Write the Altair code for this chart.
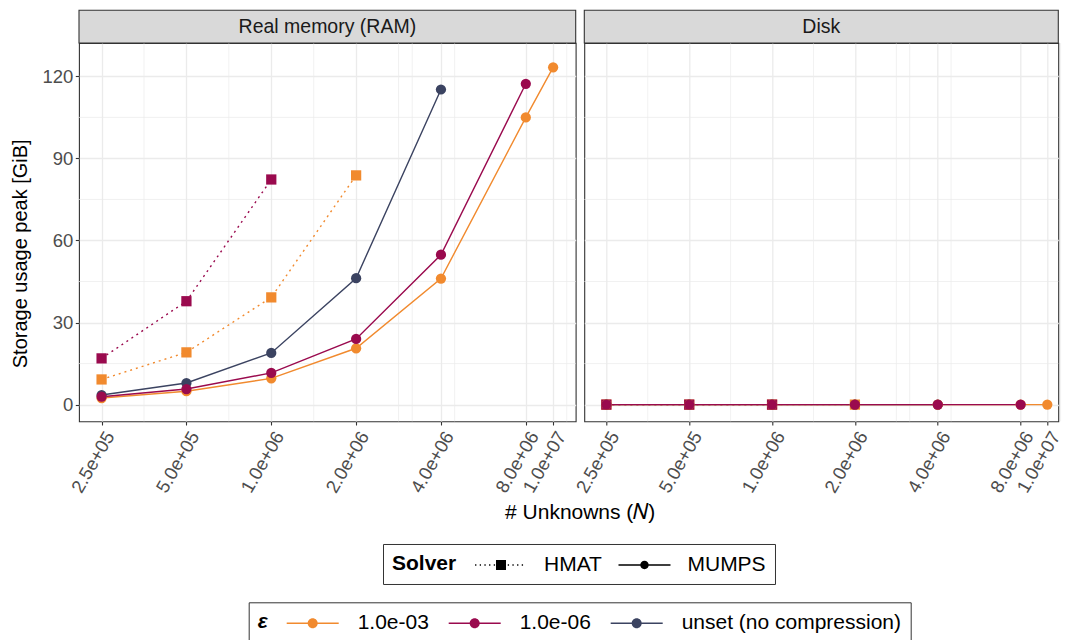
import math
import altair as alt
import pandas as pd

# ---------------- data ----------------
PANELS = ["Real memory (RAM)", "Disk"]
SOLVERS = ["HMAT", "MUMPS"]
EPS_LEVELS = ["1.0e-03", "1.0e-06", "unset (no compression)"]
EPS_COLORS = ["#F18A2E", "#9A0A4E", "#3B4361"]

N_ALL = [250000, 500000, 1000000, 2000000, 4000000, 8000000, 10000000]
X_BREAKS = N_ALL
X_MINOR = [353553, 707107, 1414214, 2828427, 3162278, 4472136, 11180340]
Y_BREAKS = [0, 30, 60, 90, 120]
Y_MINOR = [15, 45, 75, 105]

# Real memory (RAM), GiB
ram_hmat_1e3 = [9.2, 19.1, 39.2, 83.8]
ram_hmat_1e6 = [16.9, 37.8, 82.3]
ram_mumps_1e3 = [2.4, 4.9, 9.6, 20.6, 46.1, 105.0, 123.3]
ram_mumps_1e6 = [2.9, 5.7, 11.6, 24.0, 54.8, 117.3]
ram_mumps_unset = [3.5, 7.9, 18.9, 46.2, 115.2]
# Disk, GiB
disk_hmat_1e3 = [0.0, 0.0, 0.0, 0.0]
disk_hmat_1e6 = [0.0, 0.0, 0.0]
disk_mumps_1e3 = [0.0, 0.0, 0.0, 0.0, 0.0, 0.0, 0.0]
disk_mumps_1e6 = [0.0, 0.0, 0.0, 0.0, 0.0, 0.0]
disk_mumps_unset = [0.0, 0.0, 0.0, 0.0, 0.0]

SERIES = [
    (PANELS[0], "HMAT", EPS_LEVELS[0], ram_hmat_1e3),
    (PANELS[0], "HMAT", EPS_LEVELS[1], ram_hmat_1e6),
    (PANELS[0], "MUMPS", EPS_LEVELS[2], ram_mumps_unset),
    (PANELS[0], "MUMPS", EPS_LEVELS[0], ram_mumps_1e3),
    (PANELS[0], "MUMPS", EPS_LEVELS[1], ram_mumps_1e6),
    (PANELS[1], "HMAT", EPS_LEVELS[0], disk_hmat_1e3),
    (PANELS[1], "HMAT", EPS_LEVELS[1], disk_hmat_1e6),
    (PANELS[1], "MUMPS", EPS_LEVELS[2], disk_mumps_unset),
    (PANELS[1], "MUMPS", EPS_LEVELS[0], disk_mumps_1e3),
    (PANELS[1], "MUMPS", EPS_LEVELS[1], disk_mumps_1e6),
]

rows = []
for panel, solver, eps, vals in SERIES:
    for n, v in zip(N_ALL, vals):
        rows.append({"panel": panel, "solver": solver, "eps": eps, "N": n, "value": v})
df = pd.DataFrame(rows)

# ---------------- layout / style ----------------
FONT = "Liberation Sans"
W_L = 496.7
W_R = 474.0
PLOT_H = 378.3
STRIP_H = 32.7
YLIM = [-6.1, 132.2]
lo, hi = math.log10(min(N_ALL)), math.log10(max(N_ALL))
pad = 0.05 * (hi - lo)
XDOM_L = [10 ** (lo - pad), 10 ** (hi + pad)]
# right panel: a little tighter so the whole figure fits the page width
px_dec_r = 463.0 / (hi - (lo - pad))
XDOM_R = [10 ** (lo - pad), 10 ** (lo - pad + W_R / px_dec_r)]

GRID = "#EBEBEB"
BORDER = "#333333"

color_scale = alt.Scale(domain=EPS_LEVELS, range=EPS_COLORS)

# legend symbol paths (unit = sqrt(symbolSize)/2 = 12 px)
def rect(x0, y0, w, h):
    return f"M{x0:.3f},{y0:.3f}h{w:.3f}v{h:.3f}h{-w:.3f}Z"

def circ(r):
    return f"M{-r:.3f},0A{r:.3f},{r:.3f} 0 1,1 {r:.3f},0A{r:.3f},{r:.3f} 0 1,1 {-r:.3f},0Z"

HALF = 2.167
LINE_T = 0.0625
eps_path = rect(-HALF, -LINE_T, 2 * HALF, 2 * LINE_T) + circ(0.417)
mumps_path = rect(-HALF, -LINE_T, 2 * HALF, 2 * LINE_T) + circ(0.35)
dots = []
xc = -HALF + 0.06
while xc <= HALF - 0.05:
    if abs(xc) > 0.5:
        dots.append(rect(xc - 0.055, -0.055, 0.11, 0.11))
    xc += 0.389
hmat_path = "".join(dots) + rect(-0.417, -0.417, 0.834, 0.834)

LABEL_EXPR = "replace(format(datum.value, '.1e'), 'e+', 'e+0')"


def x_enc(left):
    kw = dict(
        values=X_BREAKS, labelExpr=LABEL_EXPR, labelAngle=300, labelAlign="right",
        labelBaseline="top", labelPadding=3, labelFontSize=18.5, labelColor="#4D4D4D",
        labelOverlap=False, labelFlush=False, tickSize=3.7, tickColor=BORDER, tickWidth=1.1,
        domain=False, grid=True, gridColor=GRID, gridWidth=1.3,
    )
    if left:
        kw.update(title="# Unknowns (𝑁)", titleX=500.7, titleY=91, titleFontSize=21,
                  titleFontWeight="normal", titleColor="black", titleBaseline="middle",
                  titleAlign="center")
    else:
        kw.update(title=None)
    dom = XDOM_L if left else XDOM_R
    return alt.X("N:Q", scale=alt.Scale(type="log", domain=dom, nice=False, zero=False),
                 axis=alt.Axis(**kw))


def y_enc(left):
    kw = dict(values=Y_BREAKS, domain=False, grid=True, gridColor=GRID, gridWidth=1.3)
    if left:
        kw.update(labelFontSize=18.5, labelColor="#4D4D4D", labelPadding=2.5, tickSize=3.7,
                  tickColor=BORDER, tickWidth=1.1, title="Storage usage peak [GiB]",
                  titleFontSize=20, titleFontWeight="normal", titleColor="black",
                  titleX=-58.3, titleY=210.3, titleBaseline="middle", titleAlign="center")
    else:
        kw.update(labels=False, ticks=False, title=None)
    return alt.Y("value:Q", scale=alt.Scale(domain=YLIM, nice=False, zero=False),
                 axis=alt.Axis(**kw))


def legend_common(col_pad):
    return dict(orient="none", direction="horizontal", titleOrient="left", titleFontSize=21,
                titleFontWeight="bold", titleColor="black", titlePadding=32,
                labelFontSize=21, labelColor="black", labelLimit=0, columnPadding=col_pad,
                symbolSize=576, symbolStrokeWidth=0, symbolOpacity=1,
                strokeColor=BORDER, padding=9, fillColor="white")


def panel_chart(panel, left):
    W = W_L if left else W_R
    d = df[df["panel"] == panel]
    base = alt.Chart(d)
    X = x_enc(left)
    Yv = y_enc(left)
    col = alt.Color("eps:N", scale=color_scale, legend=None)

    minor_x = alt.Chart(pd.DataFrame({"N": X_MINOR})).mark_rule(
        color=GRID, strokeWidth=0.7).encode(x=alt.X("N:Q"))
    minor_y = alt.Chart(pd.DataFrame({"value": Y_MINOR})).mark_rule(
        color=GRID, strokeWidth=0.7).encode(y=alt.Y("value:Q"))

    line_h = base.transform_filter(alt.datum.solver == "HMAT").mark_line(
        strokeWidth=1.4, strokeDash=[2, 4], strokeCap="butt").encode(x=X, y=Yv, color=col)
    line_m = base.transform_filter(alt.datum.solver == "MUMPS").mark_line(
        strokeWidth=1.4).encode(x=X, y=Yv, color=col)
    pts_h = base.transform_filter(alt.datum.solver == "HMAT").mark_point(
        shape="square", filled=True, size=105, opacity=1).encode(x=X, y=Yv, color=col)
    pts_m = base.transform_filter(alt.datum.solver == "MUMPS").mark_point(
        shape="circle", filled=True, size=105, opacity=1).encode(x=X, y=Yv, color=col)

    # facet strip drawn above the plot area
    sdf = pd.DataFrame({"panel": [panel]})
    strip_bg = alt.Chart(sdf).mark_rect(
        fill="#D9D9D9", stroke=BORDER, strokeWidth=1.1, clip=False).encode(
        x=alt.value(0), x2=alt.value(W), y=alt.value(-STRIP_H), y2=alt.value(0))
    strip_txt = alt.Chart(sdf).mark_text(
        fontSize=19.5, color="#1A1A1A", baseline="middle", align="center", clip=False).encode(
        text="panel:N", x=alt.value(W / 2), y=alt.value(-STRIP_H / 2))

    layers = []
    if left:
        eps_leg = base.mark_point(filled=True, opacity=0).encode(
            x=X, y=Yv,
            color=alt.Color("eps:N", scale=color_scale, legend=alt.Legend(
                title="ε", legendX=169.7, legendY=559.3, titleFontStyle="italic",
                labelOffset=33, symbolType=eps_path, **legend_common(18))))
        solver_leg = base.mark_point(filled=True, opacity=0, color="black").encode(
            x=X, y=Yv,
            shape=alt.Shape("solver:N", scale=alt.Scale(domain=SOLVERS, range=[hmat_path, mumps_path]),
                            legend=alt.Legend(
                title="Solver", legendX=304, legendY=501, labelOffset=31,
                symbolFillColor="black", **legend_common(15.5))))
        layers += [eps_leg, solver_leg]
    layers += [minor_x, minor_y, line_h, line_m, pts_h, pts_m, strip_bg, strip_txt]

    return alt.layer(*layers).properties(
        width=W, height=PLOT_H,
        view=alt.ViewBackground(fill="white", stroke=BORDER, strokeWidth=1.1))


chart = alt.hconcat(
    panel_chart(PANELS[0], True), panel_chart(PANELS[1], False),
    spacing=8.3, bounds="flush",
).resolve_scale(color="shared", shape="shared").properties(
    padding={"left": 2, "top": 1, "right": 0, "bottom": 0}
).configure(font=FONT).configure_view(stroke=None)

chart.save("out.html", embed_options={"renderer": "svg", "actions": False})
